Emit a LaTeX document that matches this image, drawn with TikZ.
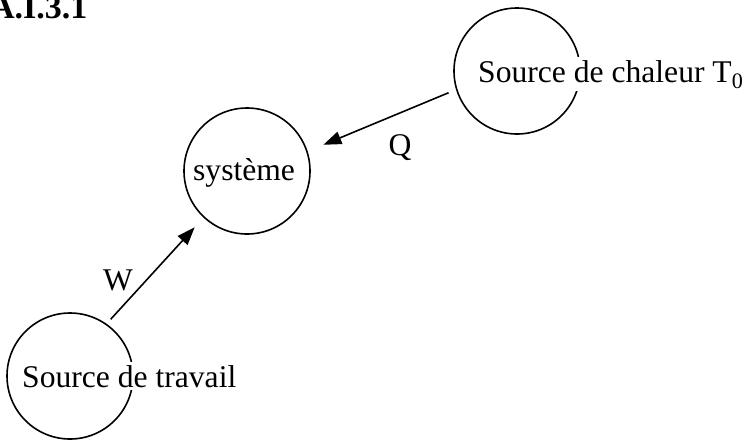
\documentclass[tikz,border=0pt]{standalone}
\usepackage{fontspec}
\setmainfont{Liberation Serif}
\usetikzlibrary{arrows.meta}
\begin{document}
\begin{tikzpicture}[x=1pt,y=-1pt,
  ring/.style={draw, circle, line width=1.6pt, minimum size=126pt, inner sep=0pt},
  lbl/.style={font=\fontsize{31.6}{36}\selectfont, inner sep=0pt},
  boxlbl/.style={lbl, fill=white, inner sep=3pt, anchor=base west},
  flow/.style={line width=1.6pt, -{Triangle[length=18pt,width=13pt]}}]
\useasboundingbox (0,0) rectangle (743,440);
\node[lbl, anchor=base west, font=\fontsize{34}{38}\selectfont\bfseries] (title) at (-10,18) {A.I.3.1};
\node[ring] (chal) at (517,71) {};
\node[ring] (sys) at (247,171) {};
\node[ring] (trav) at (70,376) {};
\node[boxlbl] (chaltxt) at (475,82) {Source de chaleur T\textsubscript{0}};
\node[boxlbl] (travtxt) at (19,387) {Source de travail};
\node[lbl, anchor=base west] (systxt) at (193,180) {système};
\draw[flow, shorten <=8pt, shorten >=17pt] (chal.197.7) -- (sys.18.9);
\draw[flow, shorten <=6pt, shorten >=13pt] (trav.55.6) -- (sys.227.1);
\node[lbl, anchor=base] (q) at (400,155) {Q};
\node[lbl, anchor=base] (w) at (118,290) {W};
\end{tikzpicture}
\end{document}
